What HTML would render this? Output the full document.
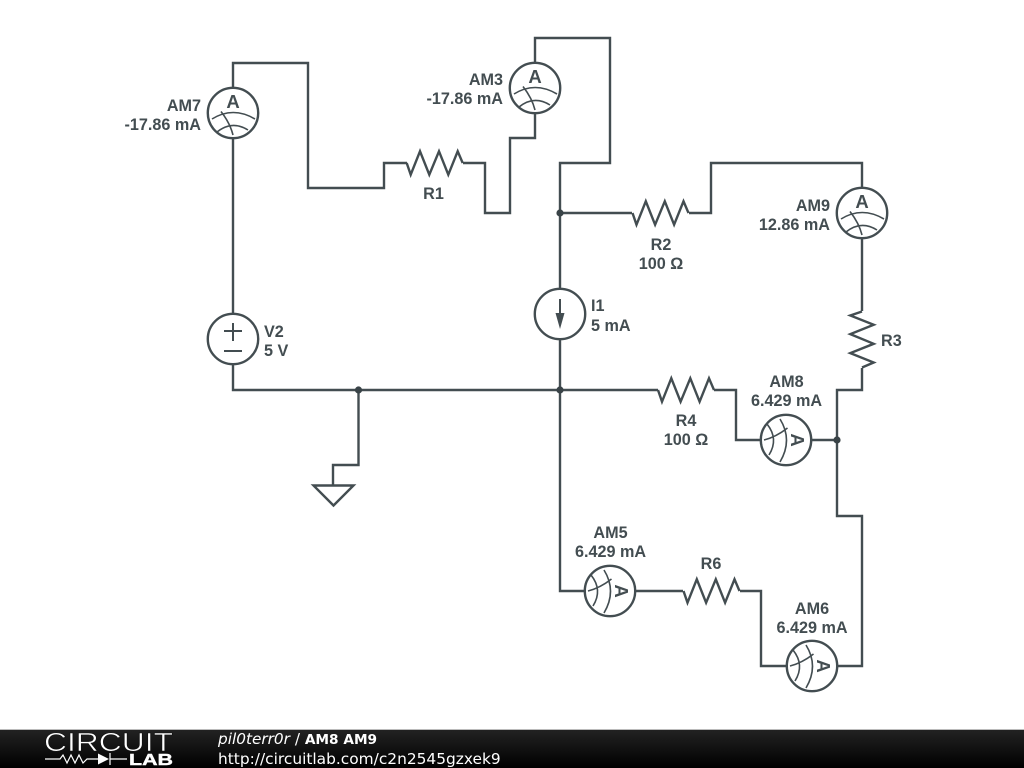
<!DOCTYPE html>
<html><head><meta charset="utf-8"><style>
html,body{margin:0;padding:0;background:#fff;width:1024px;height:768px;overflow:hidden}
svg{display:block}
.w{fill:none;stroke:#434d51;stroke-width:2.4;stroke-linejoin:miter}
.t{font-family:"Liberation Sans",sans-serif;font-weight:bold;font-size:16.2px;fill:#434d51}
.e{text-anchor:end}.m{text-anchor:middle}
.s{fill:#fff;stroke:#434d51;stroke-width:2.4}
.n{fill:none;stroke:#434d51;stroke-width:1.6}
</style></head><body>
<svg width="1024" height="768" viewBox="0 0 1024 768" xmlns="http://www.w3.org/2000/svg">
<defs>
<linearGradient id="bar" x1="0" y1="0" x2="0" y2="1"><stop offset="0" stop-color="#222"/><stop offset="1" stop-color="#000"/></linearGradient>
<g id="am"><circle class="s" r="25.2"/><path class="n" d="M-21,6Q0,-7 22,6M-16,19Q-1,7 15,17M-12,-1.5Q-3,10 0,22"/><text class="t" y="-5" text-anchor="middle" style="font-size:18.5px">A</text></g>
<path id="r" class="w" d="M-28,0L-24,11.7L-14.7,-11.7L-5.4,11.7L4.3,-11.7L13.6,11.7L23,-11.7L28,0"/>
</defs>
<rect width="1024" height="768" fill="#fff"/>
<path class="w" d="M233,88V63H308V188H384V163H407M463,163H485V213H510V138H535V113M535,63V38H610V163H560V390M560,213H632M689,213H711V163H862V188M862,238V311M862,368V390H837V516H862V666H837M787,666H761V591H740M683,591H636M585,591H560V390M233,138V313M233,364V390H658M714,390H736V440H761M811,440H837M358.5,390V465H333V485"/>
<path class="w" d="M313.5,485.5H353.5L333.5,505.5Z"/>
<circle cx="358.5" cy="390" r="3.6" fill="#394347"/><circle cx="560" cy="390" r="3.6" fill="#394347"/><circle cx="560" cy="213" r="3.6" fill="#394347"/><circle cx="837" cy="440" r="3.6" fill="#394347"/>
<use href="#r" transform="translate(434.7,163)"/>
<use href="#r" transform="translate(660.5,213)"/>
<use href="#r" transform="translate(686,390)"/>
<use href="#r" transform="translate(711.5,591)"/>
<use href="#r" transform="translate(862,339.5) rotate(90)"/>
<use href="#am" transform="translate(233,113)"/>
<use href="#am" transform="translate(535,88)"/>
<use href="#am" transform="translate(862,213)"/>
<use href="#am" transform="translate(786,440) rotate(90)"/>
<use href="#am" transform="translate(610,591) rotate(90)"/>
<use href="#am" transform="translate(812,666) rotate(90)"/>
<circle class="s" cx="233" cy="339" r="25.2"/>
<path class="n" style="stroke-width:2" d="M233,323V341M224,331H242M224,351H242"/>
<circle class="s" cx="560" cy="314" r="25.2"/>
<path class="n" style="stroke-width:2" d="M560,299V325"/><path d="M555.5,313H564.5L560,329Z" fill="#434d51"/>
<text class="t e" x="201" y="111">AM7</text><text class="t e" x="201" y="130">-17.86 mA</text>
<text class="t e" x="503" y="85">AM3</text><text class="t e" x="503" y="104">-17.86 mA</text>
<text class="t e" x="830" y="211">AM9</text><text class="t e" x="830" y="230">12.86 mA</text>
<text class="t m" x="433.5" y="199">R1</text>
<text class="t m" x="661" y="250">R2</text><text class="t m" x="661" y="269">100 Ω</text>
<text class="t" x="264" y="337">V2</text><text class="t" x="264" y="356">5 V</text>
<text class="t" x="591" y="311">I1</text><text class="t" x="591" y="331">5 mA</text>
<text class="t" x="881" y="346">R3</text>
<text class="t m" x="786.5" y="387">AM8</text><text class="t m" x="786.5" y="406">6.429 mA</text>
<text class="t m" x="686" y="426">R4</text><text class="t m" x="686" y="445">100 Ω</text>
<text class="t m" x="610.5" y="538">AM5</text><text class="t m" x="610.5" y="557">6.429 mA</text>
<text class="t m" x="711" y="569">R6</text>
<text class="t m" x="812" y="614">AM6</text><text class="t m" x="812" y="633">6.429 mA</text>
<rect y="729" width="1024" height="1.5" fill="#bbb"/>
<rect y="730" width="1024" height="38" fill="url(#bar)"/>
<text x="44" y="751" textLength="129" lengthAdjust="spacingAndGlyphs" style="font-family:'Liberation Sans',sans-serif;font-size:26px;fill:#fff;stroke:#111;stroke-width:.6;paint-order:fill">CIRCUIT</text>
<path d="M45,759H60L63,755L67,763L71,755L75,763L79,755L83,763L87,759H98M110,759H127M110,753V765" fill="none" stroke="#fff" stroke-width="1.2"/>
<path d="M98,753.5L109,759L98,764.5Z" fill="#fff"/>
<text x="129" y="765" textLength="44" lengthAdjust="spacingAndGlyphs" style="font-family:'Liberation Sans',sans-serif;font-weight:bold;font-size:15.5px;fill:#fff;stroke:#fff;stroke-width:.4">LAB</text>
<text x="218" y="744" style="font-family:'DejaVu Sans',sans-serif;font-size:15.3px;fill:#fff"><tspan font-style="italic">pil0terr0r</tspan> / <tspan font-weight="bold" style="font-size:13.7px">AM8 AM9</tspan></text>
<text x="218" y="764" style="font-family:'DejaVu Sans',sans-serif;font-size:15.4px;fill:#fff">http://circuitlab.com/c2n2545gzxek9</text>
</svg>
</body></html>
